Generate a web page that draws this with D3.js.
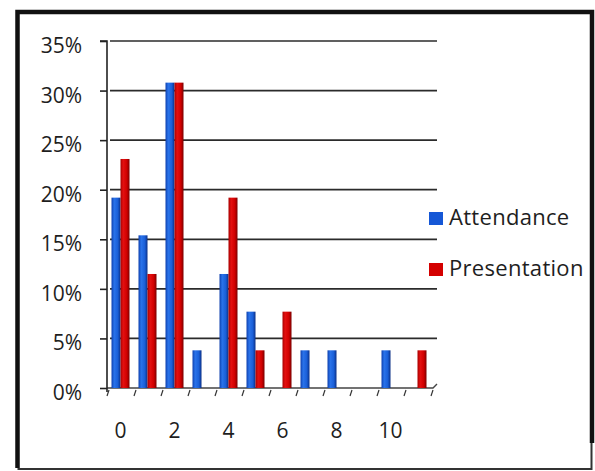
<!DOCTYPE html>
<html>
<head>
<meta charset="utf-8">
<script src="https://cdn.jsdelivr.net/npm/d3@7"></script>
<style>
  html, body { margin: 0; padding: 0; background: #fff; }
  svg { display: block; }
  text { font-family: "Open Sans", "Noto Sans", sans-serif; fill: #1e1e1e; }
</style>
</head>
<body>
<svg id="chart" width="595" height="471"></svg>
<script>
// Number of assessments (0–11) and share of students in each group
const categories = [0, 1, 2, 3, 4, 5, 6, 7, 8, 9, 10, 11];
const attendance   = [19.2, 15.4, 30.8, 3.8, 11.5, 7.7, 0, 3.8, 3.8, 0, 3.8, 0];
const presentation = [23.1, 11.5, 30.8, 0, 19.2, 3.8, 7.7, 0, 0, 0, 0, 3.8];
const seriesNames  = ["Attendance", "Presentation"];
const seriesColors = ["#1557d6", "#d40000"];
const yTicks       = [0, 5, 10, 15, 20, 25, 30, 35];
const xTickLabels  = [0, 2, 4, 6, 8, 10];

const svg = d3.select("#chart");
const W = 595, H = 471;

svg.append("rect").attr("width", W).attr("height", H).attr("fill", "#fff");

// Gradients giving the bars a shaded, cylinder-like look
const defs = svg.append("defs");
const shades = [
  ["#0d3fae", "#2a73ea", "#1a5fd8", "#0a2f86"],
  ["#a80000", "#e41010", "#d00000", "#7a0000"]
];
seriesNames.forEach((n, i) => {
  const g = defs.append("linearGradient").attr("id", "grad" + i)
    .attr("x1", "0%").attr("x2", "100%").attr("y1", "0%").attr("y2", "0%");
  g.append("stop").attr("offset", "0%").attr("stop-color", shades[i][0]);
  g.append("stop").attr("offset", "30%").attr("stop-color", shades[i][1]);
  g.append("stop").attr("offset", "70%").attr("stop-color", shades[i][2]);
  g.append("stop").attr("offset", "100%").attr("stop-color", shades[i][3]);
});

// Scales
const y = d3.scaleLinear().domain([0, 35]).range([388, 41]);
const x = d3.scaleBand().domain(categories).range([107, 431])
  .paddingInner(1 / 3).paddingOuter(1 / 6);
const xs = d3.scaleBand().domain(d3.range(seriesNames.length)).range([0, x.bandwidth()]);

// Horizontal gridlines
svg.append("g").selectAll("line").data(yTicks.filter(d => d > 0)).join("line")
  .attr("x1", 110).attr("x2", 437)
  .attr("y1", d => y(d)).attr("y2", d => y(d))
  .attr("stroke", "#2b2b2b").attr("stroke-width", 1.7);

// Floor line with its slanted tick marks
svg.append("path")
  .attr("d", `M107,${y(0)}L433,${y(0)}L437,${y(0) - 4}`)
  .attr("fill", "none").attr("stroke", "#444").attr("stroke-width", 1.4);
svg.append("g").selectAll("line").data(d3.range(categories.length + 1)).join("line")
  .attr("x1", i => 107 + i * x.step() + 2).attr("x2", i => 107 + i * x.step())
  .attr("y1", y(0) + 2).attr("y2", y(0) + 8)
  .attr("stroke", "#333").attr("stroke-width", 1.2);

// Bars
const rows = categories.map((c, i) => ({ c, v: [attendance[i], presentation[i]] }));
const groups = svg.append("g").selectAll("g").data(rows).join("g")
  .attr("transform", d => `translate(${x(d.c)},0)`);
groups.selectAll("rect").data(d => d.v.map((v, s) => ({ v, s }))).join("rect")
  .attr("x", d => xs(d.s))
  .attr("width", xs.bandwidth())
  .attr("y", d => y(d.v))
  .attr("height", d => y(0) - y(d.v))
  .attr("fill", d => `url(#grad${d.s})`);

// Y axis
const yAxis = d3.axisLeft(y).tickValues(yTicks).tickFormat(d => d + "%")
  .tickSize(7).tickPadding(18);
const gy = svg.append("g").attr("transform", "translate(107,0)").call(yAxis);
gy.select(".domain").attr("stroke", "#222").attr("stroke-width", 1.6)
  .attr("d", `M-7,${y(35)}H0V${y(0) + 4}`);
gy.selectAll(".tick line").attr("stroke", "#222").attr("stroke-width", 1.6);
gy.selectAll(".tick text")
  .style("font-family", '"Open Sans", "Noto Sans", sans-serif')
  .style("font-size", "21px").attr("fill", "#1e1e1e").attr("dy", "0.55em");

// X tick labels
svg.append("g").selectAll("text").data(xTickLabels).join("text")
  .attr("x", d => x(d) + x.bandwidth() / 2)
  .attr("y", 438)
  .attr("text-anchor", "middle")
  .style("font-size", "21px")
  .text(d => d);

// Legend
const legend = svg.append("g").selectAll("g").data(seriesNames).join("g")
  .attr("transform", (d, i) => `translate(429,${212 + i * 51})`);
legend.append("rect").attr("width", 14).attr("height", 13)
  .attr("fill", (d, i) => seriesColors[i]);
legend.append("text").attr("x", 20).attr("y", 12.5)
  .style("font-size", "22px").style("letter-spacing", "0.3px").text(d => d);

// Outer frame
svg.append("path").attr("d", "M17.5,468V12H592V443")
  .attr("fill", "none").attr("stroke", "#111").attr("stroke-width", 4.5);
svg.append("path").attr("d", "M17.5,469H591.5V443")
  .attr("fill", "none").attr("stroke", "#333").attr("stroke-width", 2);
</script>
</body>
</html>
